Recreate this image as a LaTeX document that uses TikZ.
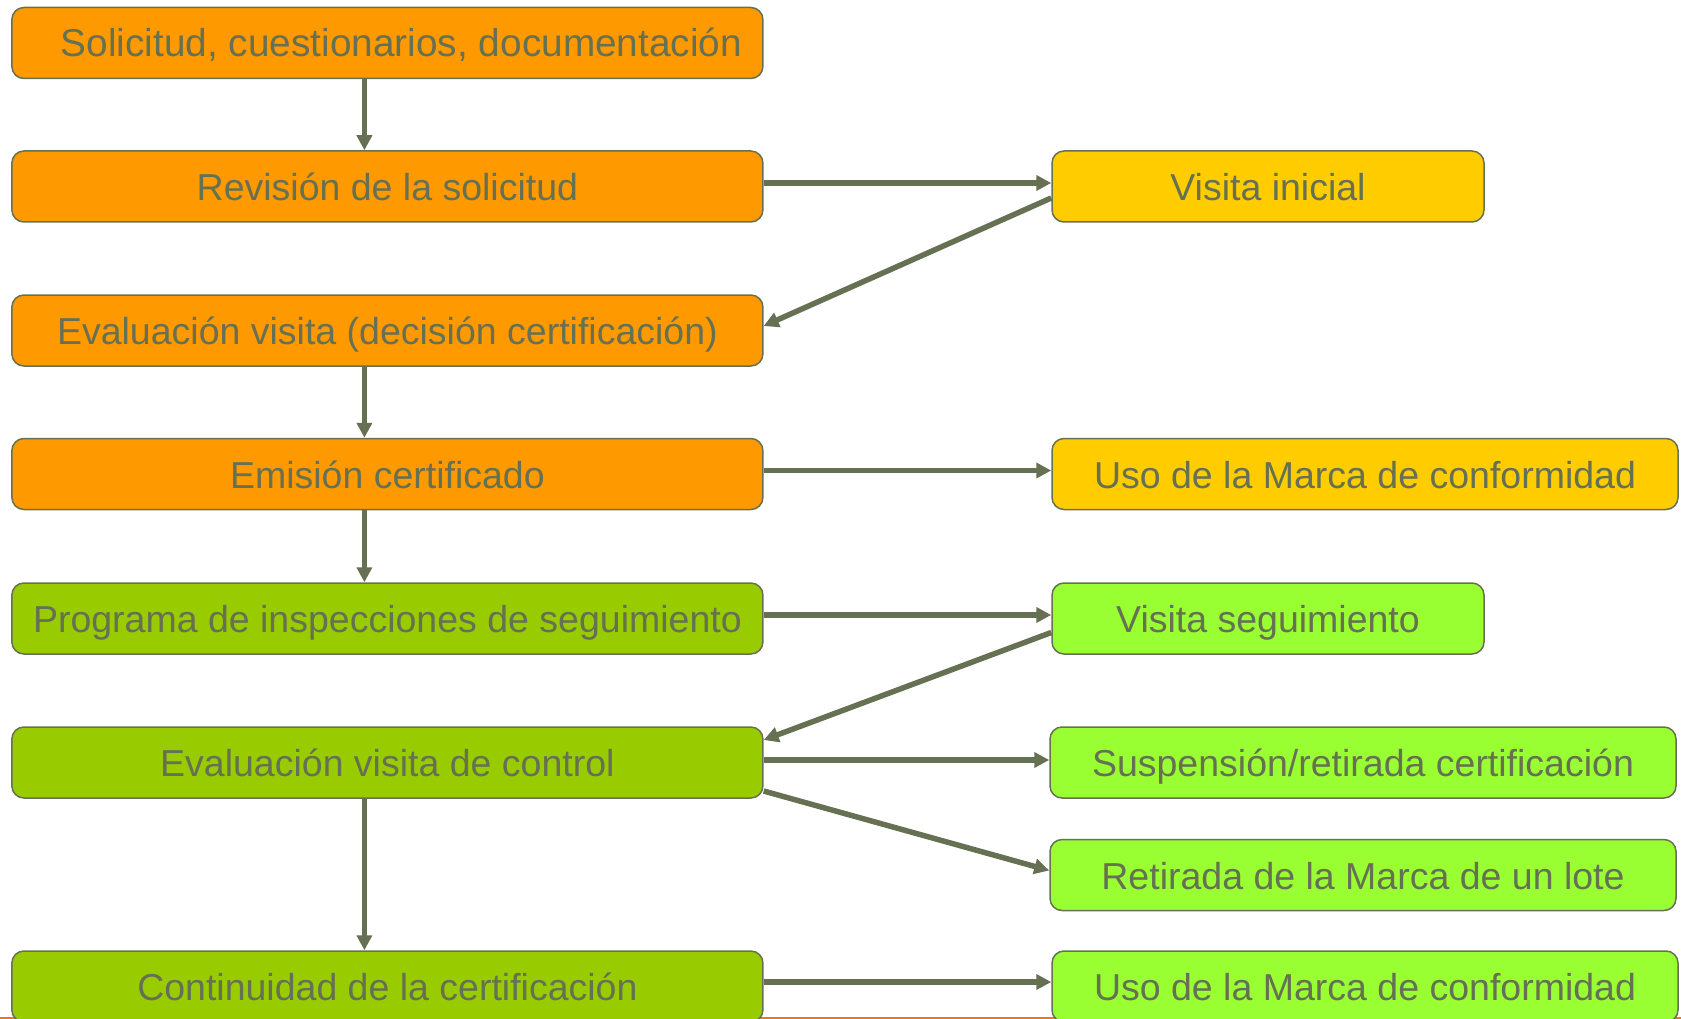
\documentclass[tikz,border=0pt]{standalone}
\usepackage{fontspec}
\setmainfont{Liberation Sans}
\usetikzlibrary{arrows.meta}
\definecolor{greytext}{RGB}{102,112,82}
\definecolor{orangefill}{RGB}{255,153,0}
\definecolor{yellowfill}{RGB}{255,204,0}
\definecolor{olivefill}{RGB}{153,204,0}
\definecolor{limefill}{RGB}{153,255,51}
\definecolor{orangerule}{RGB}{230,120,30}
\tikzset{
      box/.style={draw=greytext, line width=1.5pt, rounded corners=12pt, text=greytext,
            font=\fontsize{37.5}{44}\selectfont, minimum height=71pt, inner sep=0pt,
            text height=30pt, text depth=2pt},
      stepl/.style={box, minimum width=751pt},
      resshort/.style={box, minimum width=432pt},
      reslong/.style={box, minimum width=626pt},
      flow/.style={draw=greytext, line width=5.5pt, -{Triangle[length=15pt,width=15pt]}},
}

\begin{document}
\begin{tikzpicture}[x=1pt, y=-1pt]
        \clip (0,0) rectangle (1681,1019);
        \draw[orangerule, line width=3pt] (0,1018) -- (1681,1018);

        % Left column: the steps
        \node[stepl, fill=orangefill, font=\fontsize{38.8}{44}\selectfont] (sol) at (387.4,43) {\hspace*{28pt}Solicitud, cuestionarios, documentación};
        \node[stepl, fill=orangefill] (rev) at (387.4,186.5) {Revisión de la solicitud};
        \node[stepl, fill=orangefill] (evalv) at (387.4,330.5) {Evaluación visita (decisión certificación)};
        \node[stepl, fill=orangefill] (emis) at (387.4,474) {Emisión certificado};
        \node[stepl, fill=olivefill] (prog) at (387.4,618.5) {Programa de inspecciones de seguimiento};
        \node[stepl, fill=olivefill] (evalc) at (387.4,762.5) {Evaluación visita de control};
        \node[stepl, fill=olivefill] (cont) at (387.4,986.5) {Continuidad de la certificación};

        % Right column: visits and results
        \node[resshort, fill=yellowfill] (vini) at (1268,186.5) {Visita inicial};
        \node[reslong, fill=yellowfill] (uso) at (1365,474) {Uso de la Marca de conformidad};
        \node[resshort, fill=limefill] (vseg) at (1268,618.5) {Visita seguimiento};
        \node[reslong, fill=limefill] (susp) at (1363,762.5) {Suspensión/retirada certificación};
        \node[reslong, fill=limefill] (retl) at (1363,875) {Retirada de la Marca de un lote};
        \node[reslong, fill=limefill] (usob) at (1365,986.5) {Uso de la Marca de conformidad};

        % Down the left column
        \draw[flow] ([xshift=-23pt]sol.south) -- ([xshift=-23pt]rev.north);
        \draw[flow] ([xshift=-23pt]evalv.south) -- ([xshift=-23pt]emis.north);
        \draw[flow] ([xshift=-23pt]emis.south) -- ([xshift=-23pt]prog.north);
        \draw[flow] ([xshift=-23pt]evalc.south) -- ([xshift=-23pt]cont.north);

        % Across
        \draw[flow] ([yshift=3.5pt]rev.east) -- ([yshift=3.5pt]vini.west);
        \draw[flow] ([yshift=-11.5pt]vini.west) -- ([yshift=4.5pt]evalv.east);
        \draw[flow] ([yshift=3.5pt]emis.east) -- ([yshift=3.5pt]uso.west);
        \draw[flow] ([yshift=3.5pt]prog.east) -- ([yshift=3.5pt]vseg.west);
        \draw[flow] ([yshift=-14pt]vseg.west) -- ([yshift=22.5pt]evalc.east);
        \draw[flow] ([yshift=2.5pt]evalc.east) -- ([yshift=2.5pt]susp.west);
        \draw[flow] ([yshift=-28.5pt]evalc.east) -- ([yshift=4.5pt]retl.west);
        \draw[flow] ([yshift=4.5pt]cont.east) -- ([yshift=4.5pt]usob.west);

    \end{tikzpicture}
\end{document}
